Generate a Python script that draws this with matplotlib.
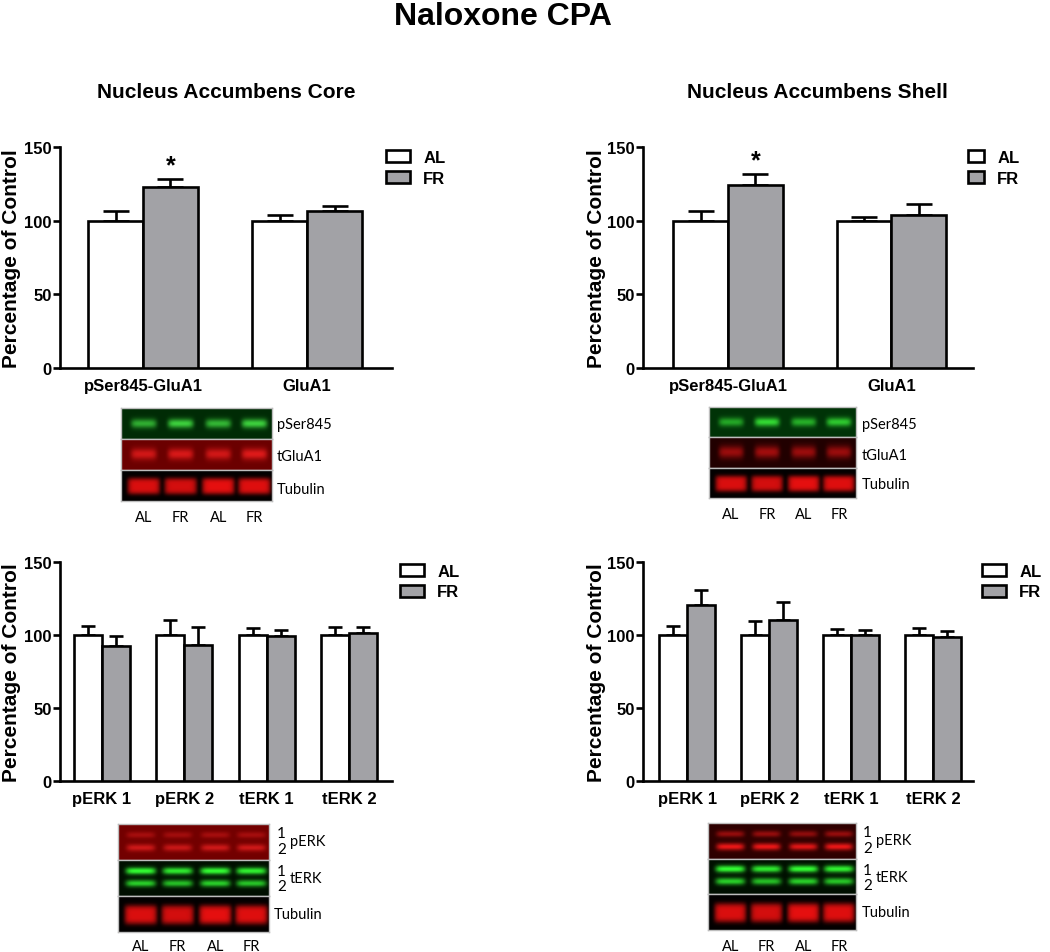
import numpy as np
import matplotlib
matplotlib.use("Agg")
import matplotlib.pyplot as plt

plt.rcParams['font.family'] = ['Liberation Sans', 'DejaVu Sans']
plt.rcParams['font.weight'] = 'bold'

# ---------------- data ----------------
groups = ["AL", "FR"]
glu_cats = ["pSer845-GluA1", "GluA1"]
erk_cats = ["pERK 1", "pERK 2", "tERK 1", "tERK 2"]

core_glu_al = [100, 100]
core_glu_al_err = [6.4, 3.9]
core_glu_fr = [123.0, 106.6]
core_glu_fr_err = [5.3, 3.6]

shell_glu_al = [100, 100]
shell_glu_al_err = [6.4, 2.3]
shell_glu_fr = [124.0, 104.0]
shell_glu_fr_err = [7.9, 7.4]

core_erk_al = [100, 100, 100, 100]
core_erk_al_err = [6.5, 10.4, 4.9, 5.6]
core_erk_fr = [92.8, 93.3, 99.6, 101.1]
core_erk_fr_err = [6.5, 11.9, 3.7, 4.3]

shell_erk_al = [100, 100, 100, 100]
shell_erk_al_err = [6.5, 9.5, 3.9, 5.0]
shell_erk_fr = [120.5, 110.6, 99.8, 98.9]
shell_erk_fr_err = [10.5, 12.3, 3.6, 3.8]

yticks = [0, 50, 100, 150]
lane_labels = ["AL", "FR", "AL", "FR"]

# decorative blot band intensities per lane
core_pser_int = [0.75, 0.95, 0.8, 0.95]
core_tglu_int = [0.75, 0.8, 0.75, 0.85]
shell_pser_int = [0.7, 1.0, 0.75, 0.9]
shell_tglu_int = [0.8, 0.85, 0.8, 0.8]
tub_int = [0.95, 0.92, 1.0, 0.97]
core_perk_int = [0.8, 0.75, 0.8, 0.8]
shell_perk_int = [0.9, 0.9, 0.85, 0.9]
terk_int = [1.0, 0.92, 1.0, 0.95]

GRAY = "#A2A2A6"
W, H = 1050, 953

fig = plt.figure(figsize=(W / 100, H / 100), dpi=100)


def box(l, t, r, b):
    return [l / W, 1 - b / H, (r - l) / W, (b - t) / H]


def ftext(x, y, s, **kw):
    fig.text(x / W, 1 - y / H, s, **kw)


def bar_panel(rect, cats, al, al_err, fr, fr_err, width, xlim, capsize,
              leg_xy, handlelength, ylab_x, star=False):
    ax = fig.add_axes(box(*rect))
    x = np.arange(len(cats))
    ax.bar(x - width / 2, al, width, color="white", edgecolor="black",
           linewidth=1.9, label=groups[0], zorder=3)
    ax.bar(x + width / 2, fr, width, color=GRAY, edgecolor="black",
           linewidth=1.9, label=groups[1], zorder=3)
    z = np.zeros(len(cats))
    ax.errorbar(x - width / 2, al, yerr=[z, al_err], fmt="none", ecolor="black",
                elinewidth=1.9, capsize=capsize, capthick=1.9, zorder=2, clip_on=False)
    ax.errorbar(x + width / 2, fr, yerr=[z, fr_err], fmt="none", ecolor="black",
                elinewidth=1.9, capsize=capsize, capthick=1.9, zorder=2, clip_on=False)
    ax.set_xlim(*xlim)
    ax.set_ylim(0, 150)
    ax.set_yticks(yticks)
    ax.set_xticks(x)
    ax.set_xticklabels(cats, fontsize=12, fontweight="bold")
    for s in ["top", "right"]:
        ax.spines[s].set_visible(False)
    for s in ["left", "bottom"]:
        ax.spines[s].set_linewidth(1.9)
    ax.tick_params(axis="x", length=0, pad=7)
    ax.tick_params(axis="y", length=5, width=1.9, pad=1, labelsize=12)
    ax.set_ylabel("Percentage of Control", fontsize=15, fontweight="bold", va="center")
    ax.yaxis.set_label_coords(ylab_x, 0.5)
    ax.legend(loc="upper left", bbox_to_anchor=(leg_xy[0] / W, 1 - leg_xy[1] / H),
              bbox_transform=fig.transFigure, frameon=False, fontsize=12,
              handlelength=handlelength, handleheight=0.72, labelspacing=0.33,
              handletextpad=0.8, borderpad=0, borderaxespad=0)
    if star:
        ax.annotate("*", xy=(x[0] + width / 2, fr[0] + fr_err[0]), xytext=(0, 1),
                    textcoords="offset points", ha="center", va="bottom",
                    fontsize=18, fontweight="bold")
    return ax


# ---------------- bar charts ----------------
bar_panel((60, 148, 392, 369), glu_cats, core_glu_al, core_glu_al_err,
          core_glu_fr, core_glu_fr_err, 0.335, (-0.506, 1.518), 9.7,
          (386, 151), 1.44, -0.145, star=True)
bar_panel((643, 148, 973, 369), glu_cats, shell_glu_al, shell_glu_al_err,
          shell_glu_fr, shell_glu_fr_err, 0.335, (-0.52, 1.50), 9.7,
          (968, 151), 0.95, -0.142, star=True)
bar_panel((60, 563, 392, 782), erk_cats, core_erk_al, core_erk_al_err,
          core_erk_fr, core_erk_fr_err, 0.34, (-0.51, 3.52), 5.0,
          (400, 565), 1.44, -0.145)
bar_panel((643, 563, 973, 782), erk_cats, shell_erk_al, shell_erk_al_err,
          shell_erk_fr, shell_erk_fr_err, 0.34, (-0.54, 3.49), 5.0,
          (982, 565), 1.44, -0.142)

# ---------------- titles ----------------
ftext(503, 17, "Naloxone CPA", fontsize=23, fontweight="bold", ha="center", va="center")
ftext(226, 92, "Nucleus Accumbens Core", fontsize=15, fontweight="bold", ha="center", va="center")
ftext(817, 92, "Nucleus Accumbens Shell", fontsize=15, fontweight="bold", ha="center", va="center")

# ---------------- blots (illustrative images) ----------------
LANES = [0.15, 0.395, 0.645, 0.885]


def strip_img(bg, fg, bands, lane_int, xhalf=0.085, w=300, h=60, xsharp=3, ysharp=1):
    xx = np.linspace(0, 1, w)
    yy = np.linspace(0, 1, h)
    bg = np.array(bg, float)
    fg = np.array(fg, float)
    img = np.zeros((h, w, 3)) + bg
    amp_tot = np.zeros((h, w))
    for (yc, ys, amp) in bands:
        py = np.exp(-np.abs((yy - yc) / ys) ** (2 * ysharp))
        for lc, li in zip(LANES, lane_int):
            px = np.exp(-np.abs((xx - lc) / xhalf) ** (2 * xsharp))
            amp_tot += amp * li * np.outer(py, px)
    amp_tot = np.clip(amp_tot, 0, 1)
    img = img + amp_tot[..., None] * (fg - bg)
    return np.clip(img, 0, 1)


def blot(x0, x1, rows, labels):
    for (t, b, img) in rows:
        ax = fig.add_axes(box(x0, t, x1, b))
        ax.imshow(img, aspect="auto", interpolation="bilinear")
        ax.set_xticks([])
        ax.set_yticks([])
        for s in ax.spines.values():
            s.set_color("#BDBDBD")
            s.set_linewidth(1.0)
    for (x, y, s, ha, fs) in labels:
        ftext(x, y, s, fontsize=fs, fontweight="normal", family="Lato", ha=ha, va="center")


def lane_texts(x0, x1, y):
    return [(x0 + f * (x1 - x0), y, s, "center", 10.5) for f, s in zip(LANES, lane_labels)]


tub = strip_img((0.01, 0.0, 0.0), (0.9, 0.06, 0.06), [(0.52, 0.27, 1.0)], tub_int,
                xhalf=0.108, xsharp=4, ysharp=2)

# top-left blot
blot(121, 272, [
    (409, 440, strip_img((0.0, 0.17, 0.02), (0.25, 0.85, 0.25), [(0.5, 0.15, 1.0)], core_pser_int)),
    (440, 471, strip_img((0.42, 0.0, 0.0), (0.95, 0.12, 0.12), [(0.5, 0.18, 1.0)], core_tglu_int)),
    (471, 502, tub)],
    [(277, 425, "pSer845", "left", 10.5), (277, 457, "tGluA1", "left", 10.5),
     (277, 490, "Tubulin", "left", 10.5)]
    + lane_texts(121, 272, 518))

# top-right blot
blot(709, 856, [
    (408, 438, strip_img((0.0, 0.2, 0.03), (0.2, 0.85, 0.2), [(0.5, 0.15, 1.0)], shell_pser_int)),
    (438, 469, strip_img((0.13, 0.0, 0.0), (0.72, 0.06, 0.06), [(0.5, 0.2, 1.0)], shell_tglu_int)),
    (469, 499, tub)],
    [(862, 425, "pSer845", "left", 10.5), (862, 456, "tGluA1", "left", 10.5),
     (862, 485, "Tubulin", "left", 10.5)]
    + lane_texts(709, 856, 515))

# bottom-left blot
blot(118, 269, [
    (825, 861, strip_img((0.45, 0.0, 0.0), (1.0, 0.15, 0.15),
                         [(0.3, 0.09, 0.45), (0.66, 0.1, 0.8)], core_perk_int, xhalf=0.095)),
    (861, 897, strip_img((0.0, 0.06, 0.0), (0.2, 1.0, 0.2),
                         [(0.3, 0.1, 1.0), (0.65, 0.1, 0.8)], terk_int, xhalf=0.1)),
    (897, 933, tub)],
    [(277, 834, "1", "left", 11), (277, 850, "2", "left", 11), (290, 842, "pERK", "left", 10.5),
     (277, 872, "1", "left", 11), (277, 887, "2", "left", 11), (290, 879, "tERK", "left", 10.5),
     (274, 915, "Tubulin", "left", 10.5)]
    + lane_texts(118, 269, 947))

# bottom-right blot
blot(708, 856, [
    (824, 860, strip_img((0.18, 0.0, 0.0), (1.0, 0.1, 0.1),
                         [(0.3, 0.09, 0.55), (0.66, 0.1, 1.0)], shell_perk_int, xhalf=0.095)),
    (860, 895, strip_img((0.0, 0.06, 0.0), (0.2, 1.0, 0.2),
                         [(0.3, 0.1, 1.0), (0.65, 0.1, 0.8)], terk_int, xhalf=0.1)),
    (895, 931, tub)],
    [(863, 833, "1", "left", 11), (863, 849, "2", "left", 11), (876, 841, "pERK", "left", 10.5),
     (863, 871, "1", "left", 11), (863, 886, "2", "left", 11), (876, 878, "tERK", "left", 10.5),
     (862, 913, "Tubulin", "left", 10.5)]
    + lane_texts(708, 856, 947))

fig.savefig("out.png", dpi=100)
